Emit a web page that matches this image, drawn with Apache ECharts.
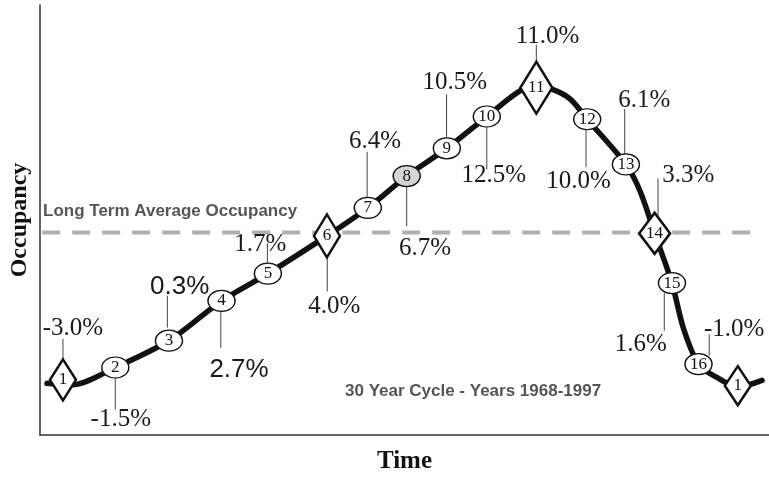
<!DOCTYPE html>
<html>
<head>
<meta charset="utf-8">
<script src="https://cdn.jsdelivr.net/npm/echarts@6/dist/echarts.min.js"></script>
<style>
  html, body { margin: 0; padding: 0; background: #fff; }
  #chart-container { width: 769px; height: 479px; }
</style>
</head>
<body>
<div id="chart-container"></div>
<script>
// cycle points 1..16 and back to 1 (time / occupancy, arbitrary units 0-100)
var markerNames = ['1', '2', '3', '4', '5', '6', '7', '8', '9', '10', '11', '12', '13', '14', '15', '16', '1'];
var markerTime = [3.15, 10.33, 17.69, 24.90, 31.26, 39.36, 44.97, 50.30, 55.81, 61.29, 68.08, 75.06, 80.37, 84.31, 86.69, 90.33, 95.72];
var markerOcc = [12.82, 15.70, 21.94, 31.18, 37.53, 46.30, 52.82, 60.21, 66.67, 74.06, 80.76, 73.44, 62.93, 46.88, 35.33, 16.47, 11.48];
var diamondPoints = [0, 5, 10, 13, 16];
var greyPoint = 7;

// rent growth labels, one per point 1..16
var pctLabels = ['-3.0%', '-1.5%', '0.3%', '2.7%', '1.7%', '4.0%', '6.4%', '6.7%', '10.5%', '12.5%', '11.0%', '10.0%', '6.1%', '3.3%', '1.6%', '-1.0%'];

// the cycle curve itself
var curveTime = [0.96, 4.38, 10.33, 17.69, 24.90, 31.26, 39.36, 44.97, 50.30, 55.81, 61.29, 65.94, 68.13, 70.31, 72.78, 75.06, 80.37, 82.35, 84.31, 86.69, 88.24, 90.33, 92.85, 95.76, 99.04];
var curveOcc = [12.01, 11.66, 15.70, 21.94, 31.18, 37.53, 46.30, 52.82, 60.21, 66.67, 74.06, 80.14, 81.06, 80.37, 78.06, 73.44, 62.93, 56.58, 46.88, 35.33, 24.94, 16.47, 13.39, 11.20, 12.70];

var avgOccupancy = 47.11;
var avgSpan = [0.3, 98.8];

// leader line / label offsets in px from marker centre: [lineDx, lineY1, lineY2, textDx, textDy, sans]
var labelLayout = [
  [0, -41, -21, 10, -51, 0],
  [0, 10, 42, 5.5, 52, 0],
  [-1.6, -45, -13, 10.7, -53.7, 1],
  [-0.7, 8.7, 47, 17.5, 68.7, 1],
  [-0.5, -30.5, -7, -7.5, -28.8, 0],
  [0.3, 20.5, 55.5, 7.3, 70.8, 0],
  [-0.7, -56, -9.3, 7.3, -66, 0],
  [0, 9.4, 50, 18.3, 72.7, 0],
  [-0.3, -54, -11, 8, -66, 0],
  [0, 9.4, 52.7, 7, 58.5, 0],
  [0, -43, -26.6, 11.3, -51.6, 0],
  [-1.2, 10, 48, -8.7, 62.5, 0],
  [-1.2, -55.5, -8.8, 18.5, -63.8, 0],
  [3.4, -55, -16.7, 33.7, -58.3, 0],
  [-7.7, 10, 47.7, -31.2, 61.7, 0],
  [10.7, -30, -8.4, 35.7, -35, 0]
];
var diamondSizes = { 0: [26, 41], 5: [26, 43], 10: [32, 52], 13: [31, 41], 16: [26, 39] };

var dom = document.getElementById('chart-container');
var myChart = echarts.init(dom, null, { renderer: 'canvas' });

var curveData = curveTime.map(function (t, i) { return [t, curveOcc[i]]; });
var avgData = avgSpan.map(function (t) { return [t, avgOccupancy]; });

var markerData = markerTime.map(function (t, i) {
  var isDiamond = diamondPoints.indexOf(i) >= 0;
  return {
    value: [t, markerOcc[i]],
    name: markerNames[i],
    symbol: isDiamond ? 'diamond' : 'circle',
    symbolSize: isDiamond ? diamondSizes[i] : [27, 21],
    itemStyle: {
      color: i === greyPoint ? '#d4d4d4' : '#fff',
      borderColor: '#111',
      borderWidth: isDiamond ? 2.6 : 1.3,
      opacity: 1
    }
  };
});

var labelData = pctLabels.map(function (txt, i) { return [markerTime[i], markerOcc[i]]; });

function renderLabel(params, api) {
  var i = params.dataIndex;
  var p = api.coord([api.value(0), api.value(1)]);
  var l = labelLayout[i];
  return {
    type: 'group',
    children: [
      {
        type: 'line',
        shape: { x1: p[0] + l[0], y1: p[1] + l[1], x2: p[0] + l[0], y2: p[1] + l[2] },
        style: { stroke: '#444', lineWidth: 1 }
      },
      {
        type: 'text',
        x: p[0] + l[3],
        y: p[1] + l[4],
        style: {
          text: pctLabels[i],
          fontFamily: l[5] ? 'Liberation Sans' : 'Liberation Serif',
          fontSize: l[5] ? 26 : 25,
          fill: '#1a1a1a',
          align: 'center',
          verticalAlign: 'middle'
        }
      }
    ]
  };
}

var option = {
  animation: false,
  grid: { left: 38, right: 0, top: 5, bottom: 41 },
  xAxis: {
    type: 'value',
    min: 0,
    max: 100,
    name: 'Time',
    nameLocation: 'middle',
    nameGap: 14,
    nameTextStyle: { fontFamily: 'Liberation Serif', fontWeight: 'bold', fontSize: 25, color: '#111' },
    axisLine: { show: true, lineStyle: { color: '#333', width: 1.5 } },
    axisTick: { show: false },
    axisLabel: { show: false },
    splitLine: { show: false }
  },
  yAxis: {
    type: 'value',
    min: 0,
    max: 100,
    name: 'Occupancy',
    nameLocation: 'middle',
    nameRotate: 90,
    nameGap: 8,
    nameTextStyle: { fontFamily: 'Liberation Serif', fontWeight: 'bold', fontSize: 24, color: '#111' },
    axisLine: { show: true, lineStyle: { color: '#333', width: 1.5 } },
    axisTick: { show: false },
    axisLabel: { show: false },
    splitLine: { show: false }
  },
  graphic: [
    {
      type: 'text',
      x: 43,
      y: 211,
      style: {
        text: 'Long Term Average Occupancy',
        font: 'bold 17px "Liberation Sans"',
        fill: '#555',
        verticalAlign: 'middle'
      }
    },
    {
      type: 'text',
      x: 345,
      y: 391,
      style: {
        text: '30 Year Cycle - Years 1968-1997',
        font: 'bold 17px "Liberation Sans"',
        fill: '#555',
        verticalAlign: 'middle'
      }
    }
  ],
  series: [
    {
      type: 'line',
      data: avgData,
      showSymbol: false,
      silent: true,
      lineStyle: { color: '#a9b0b8', width: 4, type: [18, 12] },
      z: 1
    },
    {
      type: 'line',
      data: curveData,
      smooth: 0.3,
      showSymbol: false,
      lineStyle: { color: '#111', width: 5.5, cap: 'round' },
      z: 2
    },
    {
      type: 'custom',
      data: labelData,
      renderItem: renderLabel,
      z: 3
    },
    {
      type: 'scatter',
      data: markerData,
      itemStyle: { opacity: 1 },
      label: {
        show: true,
        position: 'inside',
        formatter: '{b}',
        fontFamily: 'Liberation Serif',
        fontSize: 17,
        color: '#111',
        textBorderWidth: 0
      },
      emphasis: { disabled: true },
      z: 4
    }
  ]
};

myChart.setOption(option);
window.addEventListener('resize', myChart.resize);
</script>
</body>
</html>
